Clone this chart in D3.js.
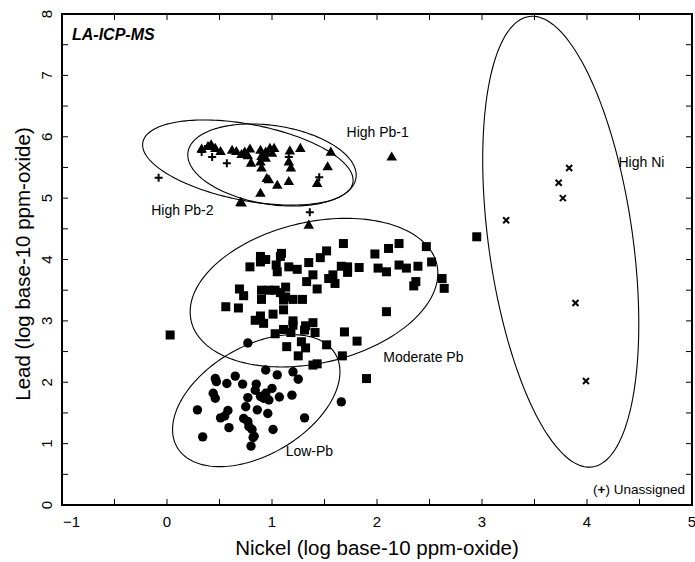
<!DOCTYPE html>
<html>
<head>
<meta charset="utf-8">
<script src="https://cdn.jsdelivr.net/npm/d3@7"></script>
<style>
  body { margin: 0; background: #fff; }
  svg { font-family: "Liberation Sans", Arial, sans-serif; }
</style>
</head>
<body>
<div id="chart"></div>
<script>
// Moderate Pb group (squares) [Ni, Pb]
const moderatePb = [
  [1.68,4.26],[1.52,4.14],[1.46,4.03],[1.35,3.95],[1.09,4.10],[1.08,4.05],[0.89,4.05],[0.89,3.96],
  [0.94,4.00],[0.79,3.88],[1.04,3.91],[1.05,3.80],[1.16,3.88],[1.24,3.84],[1.39,3.75],[1.33,3.64],
  [1.43,3.52],[1.54,3.69],[1.58,3.75],[1.60,3.61],[1.66,3.89],[1.72,3.88],[1.72,3.79],[1.83,3.87],
  [1.98,4.09],[2.11,4.18],[2.21,4.26],[2.01,3.86],[2.09,3.80],[2.21,3.91],[2.28,3.86],[2.39,3.89],
  [2.47,4.21],[2.52,3.96],[2.37,3.64],[2.35,3.57],[2.62,3.69],[2.64,3.53],[2.09,3.15],[0.69,3.52],
  [0.73,3.41],[0.56,3.23],[0.68,3.21],[0.90,3.50],[0.97,3.50],[1.03,3.50],[1.08,3.46],[1.13,3.55],
  [1.13,3.39],[1.20,3.35],[1.29,3.35],[0.90,3.35],[1.11,3.34],[1.11,3.18],[1.01,3.11],[0.89,3.08],
  [0.84,3.01],[0.92,2.96],[1.20,3.00],[1.20,2.93],[1.32,2.92],[1.39,2.97],[1.31,2.85],[1.41,2.81],
  [1.11,2.86],[1.03,2.79],[1.18,2.81],[1.69,2.82],[1.81,2.67],[1.52,2.61],[1.14,2.58],[1.28,2.66],
  [1.32,2.56],[1.25,2.43],[1.67,2.43],[1.39,2.28],[1.43,2.30],[0.03,2.77],[1.90,2.06],[2.95,4.37]
];

// Low-Pb group (circles)
const lowPb = [
  [0.77,2.64],[0.94,2.20],[1.05,2.12],[1.20,2.17],[1.25,2.05],[0.46,2.06],[0.47,2.01],[0.57,1.98],
  [0.65,2.10],[0.72,1.97],[0.85,1.97],[0.84,1.87],[0.89,1.77],[0.94,1.82],[1.00,1.90],[0.97,1.71],
  [0.92,1.74],[1.07,1.76],[1.19,1.79],[0.44,1.82],[0.46,1.74],[0.77,1.75],[0.75,1.60],[0.86,1.55],
  [0.96,1.49],[0.29,1.55],[0.58,1.54],[0.51,1.42],[0.55,1.45],[0.59,1.26],[0.73,1.41],[0.77,1.36],
  [0.78,1.28],[0.81,1.23],[0.83,1.12],[0.82,1.10],[0.80,0.96],[1.01,1.23],[1.31,1.42],[0.34,1.11],
  [1.66,1.68]
];

// High Pb group (triangles)
const highPb = [
  [0.33,5.80],[0.39,5.84],[0.42,5.87],[0.46,5.81],[0.51,5.76],[0.62,5.78],[0.66,5.76],[0.71,5.71],
  [0.74,5.75],[0.79,5.80],[0.77,5.69],[0.80,5.57],[0.89,5.78],[0.90,5.68],[0.89,5.59],[0.90,5.49],
  [0.94,5.75],[0.98,5.81],[1.00,5.73],[1.02,5.81],[0.94,5.65],[0.95,5.32],[0.97,5.30],[1.05,5.21],
  [0.89,5.08],[1.16,5.27],[1.16,5.59],[1.18,5.49],[1.17,5.77],[1.27,5.81],[1.56,5.75],[1.53,5.51],
  [1.43,5.24],[0.71,4.92],[0.70,4.93],[2.14,5.67],[1.35,4.56]
];

// High Ni group (crosses)
const highNi = [
  [3.83,5.49],[3.73,5.25],[3.77,5.00],[3.23,4.64],[3.89,3.29],[3.99,2.02]
];

// Unassigned samples (plus)
const unassigned = [
  [-0.08,5.33],[0.33,5.75],[0.43,5.67],[0.57,5.57],[0.39,5.85],[1.16,5.67],[1.45,5.34],[1.36,4.77]
];

// Group ellipses: centre, and two conjugate semi-axis vectors (data units)
const ellipseNames = ["High Pb-1", "High Pb-2", "Moderate Pb", "Low-Pb", "High Ni"];
const ellipseCentres = [[1.00,5.54],[0.77,5.58],[1.40,3.46],[0.85,1.70],[3.75,4.29]];
const ellipseAxisA = [[0.80,-0.21],[1.00,-0.33],[1.17,0.46],[0.75,0.77],[0.30,-3.67]];
const ellipseAxisB = [[-0.056,-0.635],[-0.068,-0.61],[0.15,-1.12],[0.27,-0.75],[0.68,0.16]];
const ellipseLabelAt = [[1.71,6.0],[-0.15,4.73],[2.06,2.33],[1.13,0.80],[4.30,5.51]];

const xTicks = [-1, 0, 1, 2, 3, 4, 5];
const yTicks = [0, 1, 2, 3, 4, 5, 6, 7, 8];

const width = 695, height = 562;
const svg = d3.select("#chart").append("svg")
  .attr("width", width)
  .attr("height", height);

const x = d3.scaleLinear().domain([-1, 5]).range([62, 692]);
const y = d3.scaleLinear().domain([0, 8]).range([505, 14]);

// ellipses
ellipseNames.forEach((name, i) => {
  const c = ellipseCentres[i], a = ellipseAxisA[i], b = ellipseAxisB[i];
  const pts = d3.range(0, 361, 2).map(deg => {
    const t = deg * Math.PI / 180;
    return [c[0] + a[0] * Math.cos(t) + b[0] * Math.sin(t),
            c[1] + a[1] * Math.cos(t) + b[1] * Math.sin(t)];
  });
  svg.append("path")
    .datum(pts)
    .attr("fill", "none")
    .attr("stroke", "#000")
    .attr("stroke-width", 1.1)
    .attr("d", d3.line().x(d => x(d[0])).y(d => y(d[1])).curve(d3.curveLinearClosed));

  svg.append("text")
    .attr("x", x(ellipseLabelAt[i][0]))
    .attr("y", y(ellipseLabelAt[i][1]))
    .attr("font-size", 14)
    .text(name);
});

// markers
svg.selectAll(".sq").data(moderatePb).enter().append("rect")
  .attr("x", d => x(d[0]) - 4.5).attr("y", d => y(d[1]) - 4.5)
  .attr("width", 9).attr("height", 9).attr("fill", "#000");

svg.selectAll(".dot").data(lowPb).enter().append("circle")
  .attr("cx", d => x(d[0])).attr("cy", d => y(d[1]))
  .attr("r", 4.7).attr("fill", "#000");

const tri = d3.symbol().type(d3.symbolTriangle).size(48);
svg.selectAll(".tri").data(highPb).enter().append("path")
  .attr("d", tri)
  .attr("transform", d => "translate(" + x(d[0]) + "," + (y(d[1]) + 0.5) + ")")
  .attr("fill", "#000");

svg.selectAll(".cross").data(highNi).enter().append("path")
  .attr("d", "M-3,-3L3,3M-3,3L3,-3")
  .attr("transform", d => "translate(" + x(d[0]) + "," + y(d[1]) + ")")
  .attr("stroke", "#000").attr("stroke-width", 2);

svg.selectAll(".plus").data(unassigned).enter().append("path")
  .attr("d", "M-4,0H4M0,-4V4")
  .attr("transform", d => "translate(" + x(d[0]) + "," + y(d[1]) + ")")
  .attr("stroke", "#000").attr("stroke-width", 2);

// ticks, inward on all four sides
const xMinor = d3.range(-1, 5.01, 0.5);
const yMinor = d3.range(0, 8.01, 0.5);
const tickLen = 6;
xMinor.forEach(v => {
  svg.append("line").attr("x1", x(v)).attr("x2", x(v)).attr("y1", y(0)).attr("y2", y(0) - tickLen)
    .attr("stroke", "#000");
  svg.append("line").attr("x1", x(v)).attr("x2", x(v)).attr("y1", y(8)).attr("y2", y(8) + tickLen)
    .attr("stroke", "#000");
});
yMinor.forEach(v => {
  svg.append("line").attr("x1", x(-1)).attr("x2", x(-1) + tickLen).attr("y1", y(v)).attr("y2", y(v))
    .attr("stroke", "#000");
  svg.append("line").attr("x1", x(5)).attr("x2", x(5) - tickLen).attr("y1", y(v)).attr("y2", y(v))
    .attr("stroke", "#000");
});

// frame
svg.append("rect")
  .attr("x", x(-1)).attr("y", y(8))
  .attr("width", x(5) - x(-1)).attr("height", y(0) - y(8))
  .attr("fill", "none").attr("stroke", "#000").attr("stroke-width", 2);

// tick labels (the -1 label sits just right of its tick, as in the original)
svg.selectAll(".xl").data(xTicks).enter().append("text")
  .attr("x", d => d === -1 ? x(d) + 1 : x(d)).attr("y", 527)
  .attr("text-anchor", d => d === -1 ? "start" : "middle").attr("font-size", 15)
  .text(d => d < 0 ? "\u2212" + Math.abs(d) : d);

svg.selectAll(".yl").data(yTicks).enter().append("text")
  .attr("transform", d => "translate(52," + y(d) + ") rotate(-90)")
  .attr("text-anchor", "middle").attr("font-size", 15)
  .text(d => d);

// axis titles
svg.append("text")
  .attr("x", 377).attr("y", 555)
  .attr("text-anchor", "middle").attr("font-size", 20.5)
  .text("Nickel (log base-10 ppm-oxide)");

svg.append("text")
  .attr("transform", "translate(30,264) rotate(-90)")
  .attr("text-anchor", "middle").attr("font-size", 20.5)
  .text("Lead (log base-10 ppm-oxide)");

// annotations
svg.append("text")
  .attr("x", 72).attr("y", 40)
  .attr("font-size", 16).attr("font-weight", "bold").attr("font-style", "italic")
  .text("LA-ICP-MS");

const note = svg.append("text")
  .attr("x", 685).attr("y", 494)
  .attr("text-anchor", "end").attr("font-size", 13.5);
note.append("tspan").text("(");
note.append("tspan").attr("font-weight", "bold").text("+");
note.append("tspan").text(") Unassigned");
</script>
</body>
</html>
